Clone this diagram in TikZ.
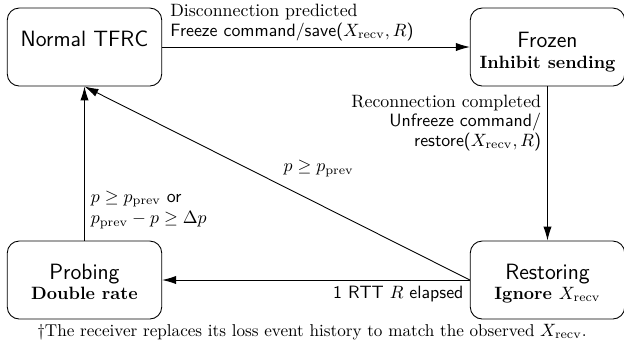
\documentclass[tikz,border=0pt]{standalone}
\usetikzlibrary{arrows.meta}
\begin{document}
\begin{tikzpicture}[x=0.5602pt,y=-0.5602pt,
  state/.style={draw, line width=0.5pt, rounded corners=6.7pt, minimum width=86.5pt, minimum height=43.7pt, inner sep=0pt},
  title/.style={anchor=base, font=\fontsize{12.4}{15}\selectfont\sffamily, inner sep=0pt},
  sub/.style={anchor=base, font=\normalsize\bfseries, inner sep=0pt},
  arr/.style={line width=0.5pt, -{Latex[length=7.8pt,width=4.6pt]}},
  lab/.style={font=\fontsize{10}{11}\selectfont}]
\useasboundingbox (0,0) rectangle (624,345);
% boxes
\node[state] (normal) at (84.5,47) {};
\node[state] (frozen) at (547.5,47) {};
\node[state] (probing) at (84.5,280) {};
\node[state] (restoring) at (547.5,280) {};
% box texts
\node[title] (normal-t) at (84.5,46) {Normal TFRC};
\node[title] (frozen-t) at (547.5,47) {Frozen};
\node[sub] (frozen-s) at (547.5,68) {Inhibit sending};
\node[title] (probing-t) at (84.5,279) {Probing};
\node[sub] (probing-s) at (84.5,299) {Double rate};
\node[title] (restoring-t) at (547.5,279) {Restoring};
\node[sub] (restoring-s) at (547.5,299) {Ignore \mdseries$X_{\mathrm{recv}}$};
% connectors
\draw[arr] (normal) -- (frozen)
  node[lab, pos=0, above right, align=left, xshift=1pt] {Disconnection predicted\\\sffamily Freeze command/save($X_{\mathrm{recv}},R$)};
\draw[arr] (frozen) -- (restoring)
  node[lab, pos=0, below left, align=right, yshift=-1pt] {Reconnection completed\\\sffamily Unfreeze command/\\\sffamily restore($X_{\mathrm{recv}},R$)};
\draw[arr] (restoring) -- (probing)
  node[lab, pos=0, below left] {\sffamily 1 RTT $R$ elapsed};
\draw[arr] (restoring.west) -- (normal.south)
  node[lab, midway, above right] {$p \ge p_{\mathrm{prev}}$};
\draw[arr] (probing) -- (normal)
  node[lab, pos=0.2, right, align=left] {$p \ge p_{\mathrm{prev}}$ \textsf{or}\\[1pt]$p_{\mathrm{prev}} - p \ge \Delta p$};
\node[font=\fontsize{9.6}{11}\selectfont] (cap) at (312,332) {\textdagger The receiver replaces its loss event history to match the observed $X_{\mathrm{recv}}$.};
\end{tikzpicture}
\end{document}
